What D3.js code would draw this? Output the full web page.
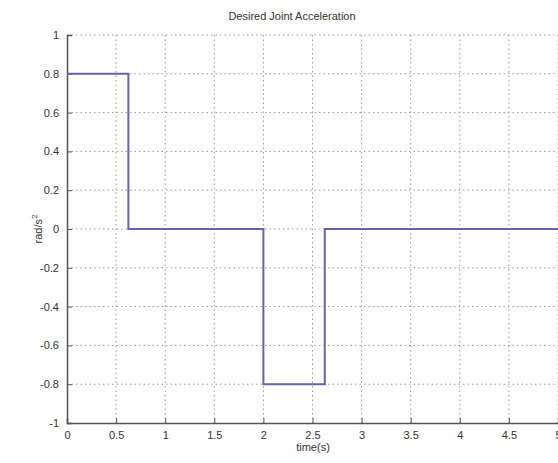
<!DOCTYPE html>
<html>
<head>
<meta charset="utf-8">
<script src="https://cdn.jsdelivr.net/npm/d3@7"></script>
<style>
  body { margin: 0; background: #fff; }
  text { font-family: "Liberation Sans", Arial, sans-serif; fill: #333; }
</style>
</head>
<body>
<div id="viz"></div>
<script>
// step profile of the desired joint acceleration
let times = [0, 0.625, 0.625, 2, 2, 2.625, 2.625, 5];
let accel = [0.8, 0.8, 0, 0, -0.8, -0.8, 0, 0];
let xTicks = [0, 0.5, 1, 1.5, 2, 2.5, 3, 3.5, 4, 4.5, 5];
let yTicks = [-1, -0.8, -0.6, -0.4, -0.2, 0, 0.2, 0.4, 0.6, 0.8, 1];

let svg = d3.select('#viz')
  .append("svg")
  .attr("width", 558)
  .attr("height", 463);

let mLeft = 67, mTop = 35, mRight = 558, mBottom = 423;

let x = d3.scaleLinear().domain([0, 5]).range([mLeft, mRight]);
let y = d3.scaleLinear().domain([-1, 1]).range([mBottom, mTop]);

// grid
svg.selectAll(".gx")
  .data(xTicks.slice(1))
  .enter().append("line")
  .attr("x1", d => x(d)).attr("x2", d => x(d))
  .attr("y1", mTop).attr("y2", mBottom)
  .attr("stroke", "#999")
  .attr("stroke-dasharray", "1.5,3");

svg.selectAll(".gy")
  .data(yTicks.slice(1))
  .enter().append("line")
  .attr("x1", mLeft).attr("x2", mRight)
  .attr("y1", d => y(d)).attr("y2", d => y(d))
  .attr("stroke", "#999")
  .attr("stroke-dasharray", "1.5,3");

// axes
let xAxis = d3.axisBottom(x).tickValues(xTicks).tickSize(-5).tickPadding(8)
  .tickFormat(d => String(d));
let yAxis = d3.axisLeft(y).tickValues(yTicks).tickSize(-5).tickPadding(8)
  .tickFormat(d => String(d));

let gx = svg.append("g").attr("transform", "translate(0," + mBottom + ")").call(xAxis);
let gy = svg.append("g").attr("transform", "translate(" + mLeft + ",0)").call(yAxis);
[gx, gy].forEach(g => {
  g.select(".domain").attr("stroke", "#555").attr("stroke-width", 1.5);
  g.selectAll(".tick line").attr("stroke", "#555");
  g.selectAll(".tick text").style("font-size", "11px").attr("fill", "#333");
});

// line
let line = d3.line().x((d, i) => x(times[i])).y(d => y(d));
svg.append("path")
  .datum(accel)
  .attr("d", line)
  .attr("fill", "none")
  .attr("stroke", "#6464a8")
  .attr("stroke-width", 2);

// labels
svg.append("text")
  .attr("x", 292).attr("y", 20)
  .style("text-anchor", "middle")
  .style("font-size", "11px")
  .text("Desired Joint Acceleration");

svg.append("text")
  .attr("x", 313).attr("y", 451)
  .style("text-anchor", "middle")
  .style("font-size", "11px")
  .text("time(s)");

let yl = svg.append("text")
  .attr("transform", "translate(42,229) rotate(-90)")
  .style("text-anchor", "middle")
  .style("font-size", "11px");
yl.append("tspan").text("rad/s");
yl.append("tspan").attr("dy", -5).style("font-size", "8px").text("2");
</script>
</body>
</html>
